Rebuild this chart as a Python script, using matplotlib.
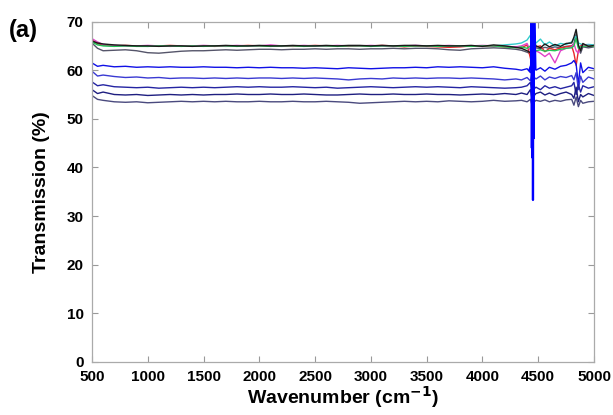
import matplotlib.pyplot as plt

plt.rcParams['font.family'] = ['Liberation Sans', 'DejaVu Sans']

# wavenumber grid (cm^-1), shared by all traces
wn = [500, 550, 600, 700, 800, 900, 1000, 1100, 1200, 1300,
      1400, 1500, 1600, 1700, 1800, 1900, 2000, 2100, 2200, 2300,
      2400, 2500, 2600, 2700, 2800, 2900, 3000, 3100, 3200, 3300,
      3400, 3500, 3600, 3700, 3800, 3900, 4000, 4100, 4200, 4300,
      4350, 4400, 4430, 4445, 4455, 4465, 4480, 4520, 4560, 4600,
      4650, 4700, 4750, 4800, 4820, 4840, 4860, 4880, 4900, 4950,
      5000]

# top cluster (~65 %)
t_black = [66.0, 65.6, 65.4, 65.2, 65.1, 65.0, 65.0, 64.9, 65.0, 65.0,
           64.9, 65.0, 65.0, 65.1, 65.0, 65.0, 65.1, 65.0, 65.0, 65.1,
           65.0, 65.0, 65.1, 65.0, 65.1, 65.1, 65.0, 65.1, 65.0, 65.1,
           65.1, 65.0, 65.1, 65.0, 65.0, 65.1, 64.9, 65.2, 65.0, 64.7,
           64.5, 64.0, 63.6, 66.0, 64.0, 65.8, 65.0, 64.6, 65.4, 64.8,
           65.3, 64.9, 65.5, 65.6, 66.8, 68.4, 65.2, 64.0, 65.5, 64.9,
           65.1]
t_green = [65.8, 65.2, 65.0, 64.9, 65.0, 64.9, 64.9, 65.0, 65.0, 64.9,
           65.0, 64.9, 65.0, 65.0, 64.9, 65.0, 65.0, 64.9, 65.0, 65.0,
           64.9, 65.0, 65.0, 64.9, 65.0, 65.0, 64.9, 65.0, 65.0, 64.9,
           65.0, 65.0, 64.9, 65.0, 65.0, 64.9, 65.0, 65.0, 64.8, 64.6,
           64.8, 64.5, 65.0, 64.0, 65.5, 64.3, 64.0, 64.2, 63.9, 64.1,
           64.0, 64.3, 64.5, 64.6, 65.0, 66.5, 64.5, 64.8, 64.9, 65.0,
           64.9]
t_magenta = [66.5, 65.8, 65.3, 65.1, 65.0, 65.0, 65.1, 65.0, 64.9, 65.0,
             65.0, 65.1, 65.0, 65.0, 65.1, 65.0, 65.0, 65.2, 65.0, 65.0,
             65.1, 65.0, 65.0, 65.1, 65.0, 65.0, 65.1, 65.0, 65.0, 65.0,
             65.1, 65.0, 65.0, 65.1, 65.0, 65.0, 65.1, 65.0, 64.9, 64.8,
             65.0, 65.5, 64.0, 62.0, 64.5, 63.0, 64.0, 63.5, 62.8, 63.5,
             61.5, 64.0, 64.5, 64.8, 65.5, 64.0, 63.5, 64.8, 65.0, 65.1,
             65.0]
t_red = [66.2, 65.5, 65.2, 65.0, 65.1, 65.0, 65.0, 65.0, 65.1, 65.0,
         65.0, 65.0, 64.9, 65.0, 65.0, 65.1, 65.0, 65.0, 65.0, 64.9,
         65.0, 65.1, 65.0, 65.0, 64.9, 65.0, 65.0, 65.1, 65.0, 64.8,
         65.0, 64.9, 64.8, 64.7, 64.8, 65.0, 64.9, 65.0, 64.8, 64.7,
         64.6, 65.2, 62.5, 60.5, 63.0, 64.5, 64.8, 65.0, 63.8, 64.5,
         64.2, 64.6, 64.8, 65.0, 63.5, 61.0, 64.0, 65.0, 65.2, 65.0,
         65.0]
t_cyan = [65.9, 65.4, 65.1, 65.0, 65.0, 65.0, 64.9, 65.0, 65.0, 65.0,
          65.0, 65.0, 65.0, 64.9, 65.0, 65.0, 65.0, 65.0, 64.9, 65.0,
          65.0, 65.0, 64.9, 65.0, 65.0, 65.0, 64.9, 65.0, 65.0, 65.0,
          64.9, 65.0, 65.0, 65.0, 64.9, 65.0, 65.0, 65.0, 65.2, 65.4,
          65.6, 66.2, 67.2, 66.5, 66.8, 66.0, 65.6, 66.4, 65.2, 65.8,
          65.0, 65.5, 65.3, 65.8, 66.5, 67.0, 65.6, 65.4, 65.2, 65.3,
          65.2]
t_gray = [65.6, 64.5, 64.0, 64.1, 64.2, 64.0, 63.6, 63.5, 63.7, 63.9,
          64.0, 64.0, 64.1, 64.2, 64.1, 64.2, 64.3, 64.3, 64.2, 64.3,
          64.3, 64.4, 64.3, 64.4, 64.4, 64.3, 64.4, 64.4, 64.5, 64.4,
          64.5, 64.5, 64.4, 64.2, 64.1, 64.4, 64.5, 64.6, 64.5, 64.3,
          64.1, 63.7, 63.4, 64.0, 64.2, 64.5, 64.6, 64.4, 64.7, 64.5,
          64.8, 64.6, 64.9, 65.0, 65.5, 67.5, 64.8, 63.5, 64.8, 64.6,
          64.8]

# lower blue family
b1 = [61.5, 60.8, 61.0, 60.7, 60.8, 60.6, 60.7, 60.6, 60.7, 60.6,
      60.6, 60.7, 60.6, 60.6, 60.5, 60.6, 60.5, 60.6, 60.5, 60.5,
      60.4, 60.5, 60.4, 60.3, 60.5, 60.4, 60.3, 60.4, 60.5, 60.5,
      60.6, 60.5, 60.7, 60.6, 60.7, 60.6, 60.5, 60.7, 60.4, 60.2,
      60.0, 60.3, 59.5, 60.5, 58.5, 60.8, 60.0, 60.5, 59.8, 60.6,
      60.2, 60.8, 61.0, 61.5, 62.0, 61.2, 57.0, 61.5, 59.5, 60.6,
      60.3]
b2 = [59.8, 58.8, 59.0, 58.7, 58.5, 58.6, 58.4, 58.5, 58.3, 58.4,
      58.4, 58.3, 58.4, 58.3, 58.4, 58.3, 58.4, 58.4, 58.3, 58.4,
      58.3, 58.4, 58.3, 58.2, 58.0, 58.2, 58.3, 58.2, 58.4, 58.3,
      58.4, 58.3, 58.4, 58.4, 58.3, 58.4, 58.3, 58.2, 58.0, 58.2,
      58.0, 58.5, 57.8, 59.5, 57.0, 58.5, 58.2, 58.8, 58.0, 58.6,
      58.3, 58.7, 58.5, 58.9, 58.0, 59.5, 56.0, 58.8, 57.5, 58.6,
      58.2]
b3 = [57.6, 56.8, 57.0, 56.6, 56.5, 56.4, 56.5, 56.3, 56.4, 56.5,
      56.4, 56.5, 56.4, 56.5, 56.6, 56.5, 56.6, 56.5, 56.5, 56.6,
      56.5, 56.4, 56.5, 56.3, 56.4, 56.5, 56.6, 56.5, 56.4, 56.5,
      56.6, 56.5, 56.6, 56.5, 56.4, 56.6, 56.5, 56.4, 56.3, 56.4,
      56.5, 56.8, 57.5, 55.5, 57.0, 56.2, 56.5, 56.0, 56.8, 56.3,
      56.6, 56.2, 56.5, 56.8, 57.5, 55.0, 57.0, 55.5, 56.8, 56.3,
      56.6]
b4 = [56.0, 55.2, 55.5, 55.0, 54.9, 55.0, 54.8, 54.9, 55.0, 54.9,
      55.0, 54.9, 55.0, 55.0, 55.1, 55.0, 55.0, 55.1, 55.0, 55.0,
      55.1, 55.0, 54.9, 54.9, 55.0, 55.1, 55.0, 55.0, 55.1, 55.0,
      55.0, 55.1, 55.0, 55.0, 54.9, 55.0, 55.1, 55.0, 55.2, 55.0,
      55.3, 55.0, 56.0, 54.0, 55.5, 54.8, 55.2, 55.5, 54.9, 55.3,
      54.8, 55.2, 55.5, 55.0, 54.2, 56.5, 53.5, 55.0, 54.5, 55.2,
      54.8]
b5 = [54.8, 54.0, 53.8, 53.5, 53.4, 53.5, 53.3, 53.4, 53.5, 53.6,
      53.5, 53.6, 53.5, 53.6, 53.5, 53.5, 53.6, 53.5, 53.5, 53.6,
      53.5, 53.5, 53.6, 53.5, 53.4, 53.2, 53.3, 53.4, 53.5, 53.6,
      53.5, 53.6, 53.5, 53.7, 53.6, 53.5, 53.6, 53.8, 53.6, 53.7,
      53.8, 53.5, 54.0, 52.8, 54.2, 53.5, 53.8, 53.6, 53.9, 53.5,
      53.8, 53.6, 53.9, 54.0, 52.8, 54.5, 52.5, 53.8, 53.2, 53.5,
      53.6]

# sharp artefact near 4450 cm^-1
spike_x = [4420, 4436, 4440, 4443, 4446, 4449, 4451, 4453, 4456, 4459, 4463, 4475]
spike_y = [60.0, 61.0, 75.0, 44.0, 75.0, 42.0, 75.0, 33.3, 75.0, 46.0, 75.0, 60.3]

top_traces = [(t_gray, '#55556a'), (t_cyan, '#33cccc'), (t_red, '#e8262b'),
              (t_magenta, '#e040c8'), (t_green, '#22c455'), (t_black, '#1a1a1a')]
blue_traces = [(b1, '#1010e6'), (b2, '#3a3ad2'), (b3, '#2424a2'),
               (b4, '#1e1e80'), (b5, '#4a4a7e')]

fig = plt.figure(figsize=(6.13, 4.15), dpi=100)
ax = fig.add_axes([0.150, 0.128, 0.819, 0.820])

for ys, c in top_traces:
    ax.plot(wn, ys, color=c, lw=1.0)
for ys, c in blue_traces:
    ax.plot(wn, ys, color=c, lw=1.0)
ax.plot(spike_x, spike_y, color='#0000ff', lw=1.6)

ax.set_xlim(500, 5000)
ax.set_ylim(0, 70)
ax.set_xticks(range(500, 5001, 500))
ax.set_yticks(range(0, 71, 10))
ax.tick_params(direction='in', top=True, right=True, length=4, width=0.8,
               color='#999999', labelsize=11)
ax.tick_params(axis='x', pad=6)
ax.tick_params(axis='y', pad=6)
for lab in ax.get_xticklabels() + ax.get_yticklabels():
    lab.set_fontweight('bold')
for s in ax.spines.values():
    s.set_color('#aaaaaa')
    s.set_linewidth(0.9)

ax.set_xlabel('Wavenumber (cm$^{\\mathbf{-1}}$)', fontsize=14, fontweight='bold', labelpad=0)
ax.set_ylabel('Transmission (%)', fontsize=14, fontweight='bold', labelpad=12)
fig.text(0.015, 0.91, '(a)', fontsize=17, fontweight='bold')

fig.savefig('out.png', dpi=100)
